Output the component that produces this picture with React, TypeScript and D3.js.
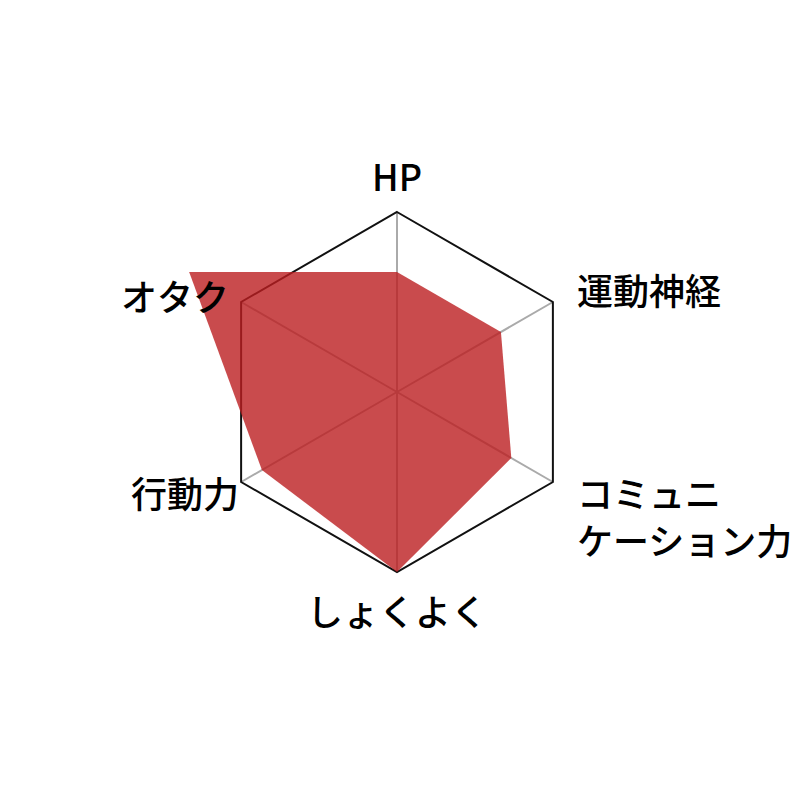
import React, { useEffect, useRef } from "react";
import * as d3 from "d3";

// axis labels, clockwise from top
const axes = ["HP", "運動神経", "コミュニケーション力", "しょくよく", "行動力", "オタク"];
const values = [100, 100, 110, 150, 130, 200];
const maxValue = 150;

const App: React.FC = () => {
  const ref = useRef<SVGSVGElement>(null);

  useEffect(() => {
    const svg = d3.select(ref.current);
    svg.selectAll("*").remove();

    const width = 794;
    const height = 789;
    const cx = 397;
    const cy = 392;
    const radius = 180;

    const r = d3.scaleLinear().domain([0, maxValue]).range([0, radius]);
    const angle = d3
      .scalePoint<string>()
      .domain(axes)
      .range([0, (2 * Math.PI * (axes.length - 1)) / axes.length]);

    const pt = (name: string, v: number): [number, number] => {
      const a = angle(name) as number;
      return [cx + r(v) * Math.sin(a), cy - r(v) * Math.cos(a)];
    };

    svg.attr("width", width).attr("height", height);
    const g = svg.append("g");

    // spokes
    g.selectAll("line.spoke")
      .data(axes)
      .join("line")
      .attr("class", "spoke")
      .attr("x1", cx)
      .attr("y1", cy)
      .attr("x2", (d) => pt(d, maxValue)[0])
      .attr("y2", (d) => pt(d, maxValue)[1])
      .attr("stroke", "#aaaaaa")
      .attr("stroke-width", 2);

    // outer hexagon
    const closed = d3.line().curve(d3.curveLinearClosed);
    g.append("path")
      .attr("d", closed(axes.map((d) => pt(d, maxValue))))
      .attr("fill", "none")
      .attr("stroke", "#111")
      .attr("stroke-width", 2);

    // data polygon
    g.append("path")
      .attr("d", closed(axes.map((d, i) => pt(d, values[i]))))
      .attr("fill", "rgba(188, 30, 32, 0.8)")
      .attr("stroke", "none");

    // labels
    const labelOffsets: Record<string, { dx: number; dy: number; anchor: string }> = {
      HP: { dx: 0, dy: -37, anchor: "middle" },
      運動神経: { dx: 24, dy: -13, anchor: "start" },
      コミュニケーション力: { dx: 24, dy: 10, anchor: "start" },
      しょくよく: { dx: 0, dy: 38, anchor: "middle" },
      行動力: { dx: -2, dy: 10, anchor: "end" },
      オタク: { dx: -12, dy: -7, anchor: "end" },
    };
    const lines = (name: string) =>
      name === "コミュニケーション力" ? ["コミュニ", "ケーション力"] : [name];

    axes.forEach((name) => {
      const [x, y] = pt(name, maxValue);
      const o = labelOffsets[name];
      const ls = lines(name);
      const t = g
        .append("text")
        .attr("x", x + o.dx)
        .attr("y", y + o.dy)
        .attr("text-anchor", o.anchor)
        .attr("dominant-baseline", "central")
        .attr("font-family", "'Noto Sans CJK JP', 'Noto Sans', sans-serif")
        .attr("font-size", 36)
        .attr("font-weight", 500)
        .attr("fill", "#000");
      ls.forEach((l, i) => {
        t.append("tspan")
          .attr("x", x + o.dx)
          .attr("dy", i === 0 ? 0 : 47)
          .text(l);
      });
    });
  }, []);

  return (
    <svg
      ref={ref}
      style={{ position: "absolute", left: 0, top: 0, background: "#fff" }}
    />
  );
};

export default App;
